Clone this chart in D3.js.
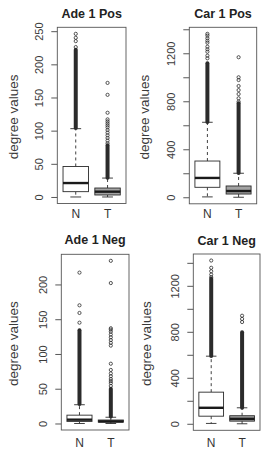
<!DOCTYPE html>
<html><head><meta charset="utf-8">
<script src="https://cdn.jsdelivr.net/npm/d3@7"></script>
<style>body{margin:0;background:#fff}svg{display:block}</style>
</head><body>
<script>
// ---------- data ----------
const titles = ["Ade 1 Pos", "Car 1 Pos", "Ade 1 Neg", "Car 1 Neg"];
const groups = ["N", "T"];
const yLabel = "degree values";

const ticksAdePos = [0, 50, 100, 150, 200, 250];
const ticksAdeNeg = [0, 50, 100, 150, 200];
const ticksCar = [0, 200, 400, 600, 800, 1000, 1200, 1400];
const labelsCar = [0, 400, 800, 1200];

// box stats: [lower whisker, Q1, median, Q3, upper whisker]
const adePosN = [0, 8, 21, 46, 103];
const adePosT = [0, 3, 8, 13.5, 28.5];
const carPosN = [3, 83, 161, 302, 625];
const carPosT = [0, 27, 52, 94, 200];
const adeNegN = [0, 3, 5.5, 12, 27];
const adeNegT = [0, 2, 3, 5, 9];
const carNegN = [3, 66, 139, 275, 588];
const carNegT = [0, 23, 43, 70, 139];

// ranges where outliers are so dense they merge into a solid column
const adePosDenseN = [104, 222];
const adePosDenseT = [29, 78];
const carPosDenseN = [628, 1117];
const carPosDenseT = [202, 783];
const adeNegDenseN = [28, 134];
const adeNegDenseT = [10, 50];
const carNegDenseN = [590, 1261];
const carNegDenseT = [140, 797];

// individually visible outliers
const adePosOutN = [226, 235, 240, 246];
const adePosOutT = [81, 85, 89, 93, 97, 101, 105, 108, 111, 114, 117, 127, 154, 172];
const carPosOutN = [1158, 1180, 1213, 1233, 1255, 1288, 1305, 1325, 1347, 1362];
const carPosOutT = [797, 825, 860, 893, 927, 977, 1000, 1167];
const adeNegOutN = [145, 159, 170, 217];
const adeNegOutT = [54, 58, 61, 64, 68, 72, 77, 86, 112, 116, 120, 124, 128, 132, 135, 137, 202, 234];
const carNegOutN = [1275, 1298, 1327, 1357, 1420];
const carNegOutT = [885, 912, 940];

// data maxima (for R-style 4% axis padding)
const maxima = [246, 1362, 234, 1420];

// ---------- layout ----------
const W = 262, H = 449;
const frames = [
  {left: 57.3, right: 126, top: 27.3, bottom: 203.5},
  {left: 189.3, right: 256.7, top: 27.3, bottom: 203.8},
  {left: 61.3, right: 129, top: 254.3, bottom: 430},
  {left: 193.3, right: 260, top: 254, bottom: 430.3}
];
const titleY = [18.3, 18.3, 243.5, 244.5];
const xLabY = [218.3, 218.3, 446.5, 446.5];
const yLabX = [18, 149, 17.5, 151];

const panels = [
  {stats: [adePosN, adePosT], dense: [adePosDenseN, adePosDenseT], out: [adePosOutN, adePosOutT], ticks: ticksAdePos, labels: ticksAdePos},
  {stats: [carPosN, carPosT], dense: [carPosDenseN, carPosDenseT], out: [carPosOutN, carPosOutT], ticks: ticksCar, labels: labelsCar},
  {stats: [adeNegN, adeNegT], dense: [adeNegDenseN, adeNegDenseT], out: [adeNegOutN, adeNegOutT], ticks: ticksAdeNeg, labels: ticksAdeNeg},
  {stats: [carNegN, carNegT], dense: [carNegDenseN, carNegDenseT], out: [carNegOutN, carNegOutT], ticks: ticksCar, labels: labelsCar}
];

const fills = ["#ffffff", "#a3a3a3"];
const ink = "#2b2b2b";
const font = "'Liberation Sans', Arial, Helvetica, sans-serif";

const svg = d3.select("body").append("svg").attr("width", W).attr("height", H)
  .style("font-family", font);

panels.forEach((p, pi) => {
  const f = frames[pi];
  const M = maxima[pi];
  const y = d3.scaleLinear().domain([-0.04 * M, 1.04 * M]).range([f.bottom, f.top]);
  const x = d3.scaleLinear().domain([0.42, 2.58]).range([f.left, f.right]);
  const g = svg.append("g");

  // y axis
  const ax = g.append("g").attr("transform", `translate(${f.left},0)`)
    .call(d3.axisLeft(y).tickValues(p.ticks).tickSize(6).tickSizeOuter(0)
      .tickFormat(d => p.labels.includes(d) ? d : ""));
  ax.select(".domain").remove();
  ax.selectAll(".tick line").attr("stroke", "#444").attr("stroke-width", 0.9);
  ax.selectAll(".tick text")
    .attr("x", null).attr("dy", null).attr("y", null)
    .attr("transform", "translate(-14,0) rotate(-90)")
    .attr("text-anchor", "middle")
    .attr("fill", "#3a3a3a")
    .style("font-size", "11px").style("font-family", font);

  // boxes
  groups.forEach((grp, gi) => {
    const s = p.stats[gi];
    const c = x(gi + 1);
    const hw = x(gi + 1.4) - c;
    const cap = x(gi + 1.17) - c;
    // whiskers
    g.append("line").attr("x1", c).attr("x2", c).attr("y1", y(s[3])).attr("y2", y(s[4]))
      .attr("stroke", ink).attr("stroke-width", 0.9).attr("stroke-dasharray", "3,3");
    g.append("line").attr("x1", c).attr("x2", c).attr("y1", y(s[1])).attr("y2", y(s[0]))
      .attr("stroke", ink).attr("stroke-width", 0.9).attr("stroke-dasharray", "3,3");
    [s[0], s[4]].forEach(v => {
      g.append("line").attr("x1", c - cap).attr("x2", c + cap).attr("y1", y(v)).attr("y2", y(v))
        .attr("stroke", ink).attr("stroke-width", 0.9);
    });
    // box
    g.append("rect").attr("x", c - hw).attr("width", 2 * hw)
      .attr("y", y(s[3])).attr("height", y(s[1]) - y(s[3]))
      .attr("fill", fills[gi]).attr("stroke", ink).attr("stroke-width", 0.9);
    g.append("line").attr("x1", c - hw).attr("x2", c + hw).attr("y1", y(s[2])).attr("y2", y(s[2]))
      .attr("stroke", "#1a1a1a").attr("stroke-width", 2.4);
    // dense outliers
    const dr = p.dense[gi];
    g.append("line").attr("x1", c).attr("x2", c).attr("y1", y(dr[0])).attr("y2", y(dr[1]))
      .attr("stroke", ink).attr("stroke-width", 4).attr("stroke-linecap", "round");
    // individual outliers
    g.selectAll(null).data(p.out[gi]).enter().append("circle")
      .attr("cx", c).attr("cy", d => y(d)).attr("r", 1.6)
      .attr("fill", "none").attr("stroke", ink).attr("stroke-width", 0.8);
    // x label
    g.append("text").attr("x", c).attr("y", xLabY[pi]).attr("text-anchor", "middle")
      .attr("fill", "#333").style("font-size", "12px").text(grp);
  });

  // frame
  g.append("rect").attr("x", f.left).attr("y", f.top)
    .attr("width", f.right - f.left).attr("height", f.bottom - f.top)
    .attr("fill", "none").attr("stroke", "#555").attr("stroke-width", 0.9);

  // title
  g.append("text").attr("x", (f.left + f.right) / 2).attr("y", titleY[pi])
    .attr("text-anchor", "middle").attr("fill", "#222")
    .style("font-size", "12.5px").style("font-weight", "bold").text(titles[pi]);

  // y label
  const cy = (f.top + f.bottom) / 2 + 1.5;
  g.append("text").attr("transform", `translate(${yLabX[pi]},${cy}) rotate(-90)`)
    .attr("text-anchor", "middle").attr("fill", "#3a3a3a")
    .style("font-size", "13.5px").text(yLabel);
});
</script>
</body></html>
